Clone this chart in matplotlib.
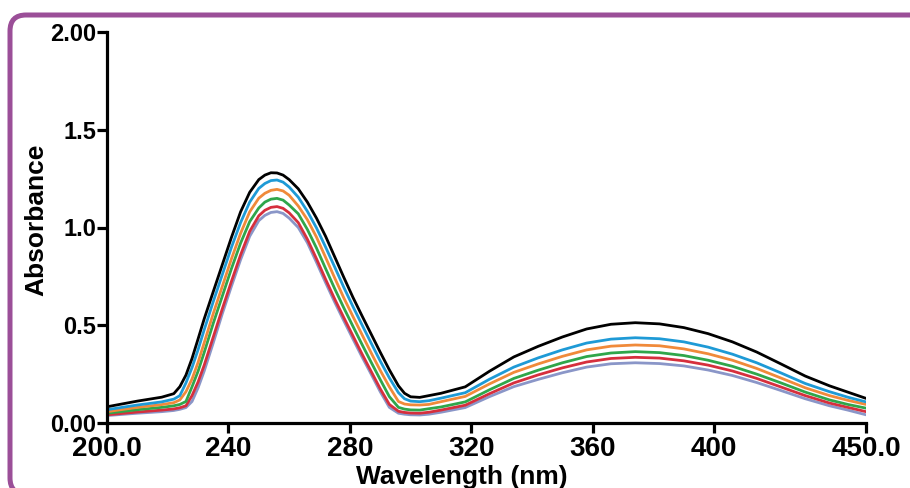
import matplotlib.pyplot as plt
from matplotlib.patches import FancyBboxPatch

# UV-Vis spectra, read at these wavelengths (nm)
wavelength = [200, 210, 218, 222, 224, 226, 228, 230, 232, 235,
              238, 241, 244, 247, 250, 252, 254, 256, 258, 260,
              263, 266, 269, 272, 275, 278, 281, 284, 287, 290,
              293, 296, 298, 300, 303, 306,
              310, 318, 326, 334, 342, 350, 358, 366, 374, 382,
              390, 398, 406, 414, 422, 430, 438, 444, 450]

abs_black = [0.083, 0.112, 0.132, 0.150, 0.186, 0.245, 0.330, 0.430, 0.532, 0.672,
             0.811, 0.950, 1.080, 1.180, 1.245, 1.268, 1.280, 1.279, 1.268, 1.245,
             1.198, 1.130, 1.048, 0.955, 0.850, 0.745, 0.643, 0.548, 0.455, 0.362,
             0.272, 0.190, 0.152, 0.134, 0.131, 0.140,
             0.152, 0.185, 0.265, 0.338, 0.392, 0.440, 0.481, 0.505, 0.513, 0.507,
             0.488, 0.457, 0.415, 0.363, 0.302, 0.240, 0.190, 0.158, 0.126]

abs_blue = [0.068, 0.092, 0.108, 0.122, 0.140, 0.205, 0.283, 0.375, 0.476, 0.621,
            0.760, 0.899, 1.025, 1.130, 1.200, 1.225, 1.240, 1.243, 1.232, 1.207,
            1.155, 1.083, 0.998, 0.900, 0.798, 0.694, 0.596, 0.502, 0.409, 0.317,
            0.231, 0.155, 0.124, 0.112, 0.109, 0.114,
            0.127, 0.155, 0.224, 0.286, 0.333, 0.374, 0.409, 0.429, 0.436, 0.431,
            0.415, 0.388, 0.352, 0.308, 0.256, 0.202, 0.160, 0.132, 0.108]

abs_orange = [0.058, 0.080, 0.094, 0.104, 0.118, 0.160, 0.225, 0.310, 0.410, 0.560,
              0.700, 0.840, 0.970, 1.080, 1.150, 1.175, 1.190, 1.195, 1.187, 1.165,
              1.110, 1.040, 0.951, 0.847, 0.742, 0.640, 0.545, 0.452, 0.359, 0.269,
              0.185, 0.110, 0.097, 0.093, 0.092, 0.095,
              0.109, 0.136, 0.200, 0.259, 0.302, 0.341, 0.374, 0.393, 0.399, 0.395,
              0.379, 0.354, 0.321, 0.279, 0.230, 0.180, 0.140, 0.116, 0.095]

abs_green = [0.050, 0.068, 0.080, 0.088, 0.095, 0.110, 0.185, 0.265, 0.360, 0.510,
             0.650, 0.790, 0.920, 1.030, 1.100, 1.130, 1.145, 1.149, 1.140, 1.115,
             1.070, 0.990, 0.895, 0.790, 0.687, 0.589, 0.495, 0.402, 0.311, 0.222,
             0.135, 0.080, 0.071, 0.067, 0.066, 0.073,
             0.082, 0.108, 0.170, 0.228, 0.270, 0.308, 0.340, 0.358, 0.365, 0.360,
             0.345, 0.321, 0.290, 0.250, 0.205, 0.158, 0.118, 0.095, 0.076]

abs_red = [0.042, 0.056, 0.066, 0.072, 0.078, 0.088, 0.140, 0.210, 0.295, 0.440,
           0.585, 0.725, 0.860, 0.980, 1.060, 1.088, 1.103, 1.107, 1.098, 1.075,
           1.025, 0.940, 0.840, 0.735, 0.634, 0.539, 0.446, 0.353, 0.264, 0.175,
           0.095, 0.060, 0.054, 0.051, 0.050, 0.055,
           0.066, 0.091, 0.150, 0.205, 0.246, 0.282, 0.312, 0.330, 0.336, 0.332,
           0.318, 0.296, 0.266, 0.228, 0.184, 0.140, 0.102, 0.080, 0.058]

abs_lavender = [0.038, 0.050, 0.058, 0.064, 0.070, 0.079, 0.110, 0.180, 0.265, 0.410,
                0.560, 0.700, 0.835, 0.955, 1.035, 1.062, 1.077, 1.081, 1.072, 1.048,
                1.000, 0.922, 0.822, 0.718, 0.618, 0.523, 0.430, 0.338, 0.250, 0.160,
                0.080, 0.050, 0.045, 0.042, 0.041, 0.045,
                0.055, 0.079, 0.135, 0.186, 0.223, 0.257, 0.286, 0.303, 0.308, 0.304,
                0.292, 0.271, 0.243, 0.207, 0.166, 0.124, 0.088, 0.066, 0.042]

x_ticks = [200, 240, 280, 320, 360, 400, 450]
x_tick_labels = ["200.0", "240", "280", "320", "360", "400", "450.0"]
y_ticks = [0.0, 0.5, 1.0, 1.5, 2.0]
y_tick_labels = ["0.00", "0.5", "1.0", "1.5", "2.00"]

plt.rcParams['font.family'] = ['Liberation Sans', 'DejaVu Sans']

fig = plt.figure(figsize=(9.1, 4.88), dpi=100)
fig.patch.set_facecolor("white")

# purple rounded frame; only its top and left sides fall inside the canvas
frame = FancyBboxPatch((10, -6), 930, 479, boxstyle="round,pad=0,rounding_size=16",
                       transform=None, facecolor="none", edgecolor="#9b4f98",
                       linewidth=3.6, zorder=0)
fig.patches.append(frame)

ax = fig.add_axes([107 / 910, 65 / 488, 759 / 910, 391 / 488])

# bottom curve first so black ends up on top
series = [
    (abs_lavender, "#8a96c8"),
    (abs_red, "#d62f3d"),
    (abs_green, "#2fa64a"),
    (abs_orange, "#f08a3a"),
    (abs_blue, "#1e9ad6"),
    (abs_black, "#000000"),
]
for values, color in series:
    ax.plot(wavelength, values, color=color, linewidth=2.0, solid_capstyle="round")

ax.set_xlim(200, 450)
ax.set_ylim(0, 2.0)
ax.set_xticks(x_ticks, x_tick_labels)
ax.set_yticks(y_ticks, y_tick_labels)

for side in ["top", "right"]:
    ax.spines[side].set_visible(False)
for side in ["left", "bottom"]:
    ax.spines[side].set_linewidth(2.3)
    ax.spines[side].set_color("black")

ax.tick_params(axis="both", direction="out", length=7, width=2.3, color="black")
ax.tick_params(axis="x", labelsize=20, pad=2)
ax.tick_params(axis="y", labelsize=17, pad=1)
for lab in ax.get_xticklabels() + ax.get_yticklabels():
    lab.set_fontweight("bold")

fig.text(36 / 910, 1 - 220 / 488, "Absorbance", rotation=90, ha="center", va="center",
         fontsize=19, fontweight="bold")
fig.text(462 / 910, 4 / 488, "Wavelength (nm)", ha="center", va="baseline",
         fontsize=19, fontweight="bold")

fig.savefig("out.png", dpi=100)
